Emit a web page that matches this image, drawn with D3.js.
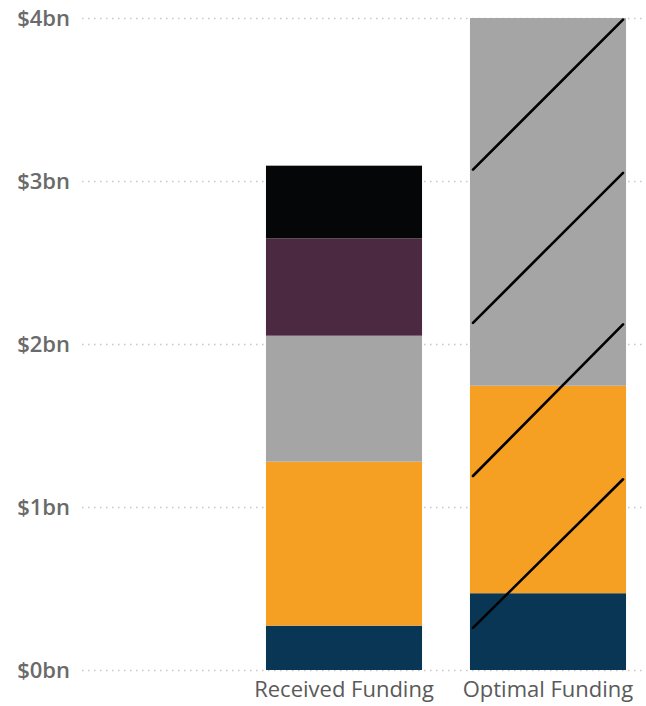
<!DOCTYPE html>
<html>
<head>
<meta charset="utf-8">
<script src="https://cdn.jsdelivr.net/npm/d3@7"></script>
<style>
  html, body { margin: 0; padding: 0; background: #fff; }
  svg { display: block; }
</style>
</head>
<body>
<script>
// Funding categories along the x axis
const categories = ["Received Funding", "Optimal Funding"];

// Stack segments, bottom to top ($bn)
const segmentNames = ["Navy", "Orange", "Grey", "Plum", "Black"];
const receivedValues = [0.272, 1.006, 0.773, 0.597, 0.446];
const optimalValues  = [0.471, 1.273, 2.256, 0, 0];
const segmentColors  = ["#0a3656", "#f59f23", "#a6a5a6", "#4a2941", "#050608"];

// Y axis ticks ($bn)
const tickValues = [0, 1, 2, 3, 4];
const tickLabels = ["$0bn", "$1bn", "$2bn", "$3bn", "$4bn"];

// Diagonal hatch strokes over the optimal bar: value at left edge and right edge ($bn)
const hatchStart = [0.258, 1.19, 2.13, 3.07];
const hatchEnd   = [1.17, 2.12, 3.05, 3.99];

const W = 646, H = 706;
const svg = d3.select("body").append("svg").attr("width", W).attr("height", H);

const y = d3.scaleLinear().domain([0, 4]).range([670, 18]);
const x = d3.scaleBand().domain(categories).range([242, 650])
  .paddingInner(0.235).paddingOuter(0.1175);

const font = "'Segoe UI', 'Open Sans', 'Noto Sans', sans-serif";

// Dotted gridlines
svg.append("g").selectAll("line").data(tickValues).join("line")
  .attr("x1", 82).attr("x2", W)
  .attr("y1", d => y(d) + 0.5).attr("y2", d => y(d) + 0.5)
  .attr("stroke", "#c8c8c8").attr("stroke-width", 1.5)
  .attr("stroke-dasharray", "1.5,4.5");

// Y tick labels
svg.append("g").selectAll("text").data(tickValues).join("text")
  .attr("x", 70).attr("y", d => y(d))
  .attr("dy", "0.35em")
  .attr("text-anchor", "end")
  .attr("font-family", font).attr("font-size", 22)
  .attr("font-weight", 600)
  .attr("fill", "#6a6a6a")
  .text((d, i) => tickLabels[i]);

// Stacked bars
const rows = categories.map((c, i) => {
  const vals = i === 0 ? receivedValues : optimalValues;
  const r = { category: c };
  segmentNames.forEach((s, j) => r[s] = vals[j]);
  return r;
});
const stack = d3.stack().keys(segmentNames)(rows);

svg.append("g").selectAll("g").data(stack).join("g")
  .attr("fill", (d, i) => segmentColors[i])
  .selectAll("rect").data(d => d.filter(p => p[1] - p[0] > 0)).join("rect")
  .attr("x", d => x(d.data.category))
  .attr("width", x.bandwidth())
  .attr("y", d => y(d[1]))
  .attr("height", d => y(d[0]) - y(d[1]));

// Hatch strokes on the optimal bar
const ox = x("Optimal Funding");
svg.append("g").selectAll("line").data(hatchStart).join("line")
  .attr("x1", ox + 3).attr("x2", ox + x.bandwidth() - 3)
  .attr("y1", d => y(d))
  .attr("y2", (d, i) => y(hatchEnd[i]))
  .attr("stroke", "#000").attr("stroke-width", 2.6)
  .attr("stroke-linecap", "round");

// Category labels
svg.append("g").selectAll("text").data(categories).join("text")
  .attr("x", d => x(d) + x.bandwidth() / 2)
  .attr("y", 697)
  .attr("text-anchor", "middle")
  .attr("font-family", font).attr("font-size", 22)
  .attr("fill", "#5a5a5a")
  .text(d => d);
</script>
</body>
</html>
